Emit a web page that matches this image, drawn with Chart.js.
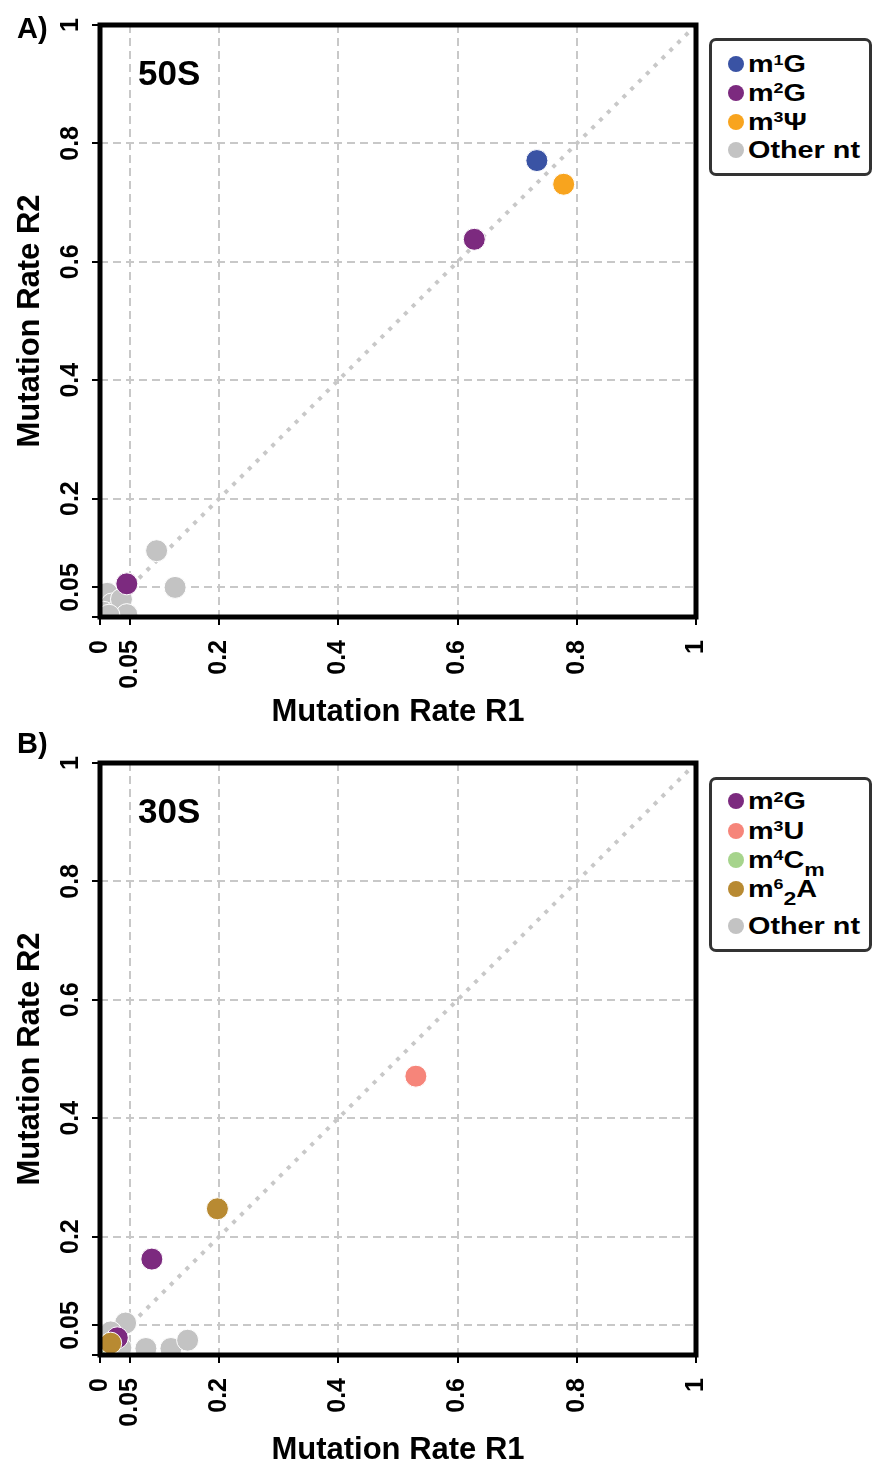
<!DOCTYPE html>
<html lang="en">
<head>
  <meta charset="UTF-8">
  <title>Mutation Rate R1 vs R2</title>
  <script src="https://cdn.jsdelivr.net/npm/chart.js"></script>
  <style>
    body {
      margin: 0;
      background: #fff;
      width: 872px;
      height: 1464px;
      overflow: hidden;
      position: relative;
      font-family: 'Liberation Sans', Arial, sans-serif;
    }
    .panel { position: absolute; left: 0; width: 872px; overflow: hidden; }
    .panel canvas { display: block; }
    .legend {
      position: absolute;
      left: 709px;
      width: 163px;
      box-sizing: border-box;
      border: 3px solid #333;
      border-radius: 7px;
      background: #fff;
      padding-left: 16px;
    }
    .row { height: 28px; display: flex; align-items: center; white-space: nowrap; }
    .dot { width: 16px; height: 16px; border-radius: 50%; flex: none; margin-right: 4px; }
    .txt {
      display: inline-block;
      font-weight: bold;
      font-size: 24px;
      color: #000;
      transform: scaleX(1.2);
      transform-origin: left center;
      line-height: 1;
    }
    .txt sup { font-size: 0.62em; position: relative; top: -0.5em; vertical-align: 0; }
    .txt sub { font-size: 0.8em; position: relative; top: 0.45em; vertical-align: 0; }
  </style>
</head>
<body>
  <div class="panel" style="top:0; height:732px"><canvas id="chart50" width="872" height="732"></canvas></div>
  <div class="panel" style="top:732px; height:732px"><canvas id="chart30" width="872" height="738"></canvas></div>

  <div class="legend" style="top:38px; height:138px; padding-top:9px;">
    <div class="row"><span class="dot" style="background:#3a53a4"></span><span class="txt">m<sup>1</sup>G</span></div>
    <div class="row" style="height:29px"><span class="dot" style="background:#7c2a7f"></span><span class="txt">m<sup>2</sup>G</span></div>
    <div class="row" style="height:29px"><span class="dot" style="background:#f8a41e"></span><span class="txt">m<sup>3</sup>Ψ</span></div>
    <div class="row"><span class="dot" style="background:#c3c3c3"></span><span class="txt">Other nt</span></div>
  </div>

  <div class="legend" style="top:777px; height:175px; padding-top:6px;">
    <div class="row" style="height:30px"><span class="dot" style="background:#7c2a7f"></span><span class="txt">m<sup>2</sup>G</span></div>
    <div class="row" style="height:29px"><span class="dot" style="background:#f6857a"></span><span class="txt">m<sup>3</sup>U</span></div>
    <div class="row" style="height:29px"><span class="dot" style="background:#a6d48c"></span><span class="txt">m<sup>4</sup>C<sub>m</sub></span></div>
    <div class="row" style="height:29px"><span class="dot" style="background:#b88a32"></span><span class="txt">m<sup>6</sup><sub>2</sub>A</span></div>
    <div class="row" style="height:29px; margin-top:8px"><span class="dot" style="background:#c3c3c3"></span><span class="txt">Other nt</span></div>
  </div>

  <script>
    // axis ticks (same for both panels)
    const tickValues = [0, 0.05, 0.2, 0.4, 0.6, 0.8, 1];
    const xTickLabels = ['0', '0.05', '0.2', '0.4', '0.6', '0.8', '1'];
    const yTickLabels = ['', '0.05', '0.2', '0.4', '0.6', '0.8', '1'];

    // identity line
    const diagX = [0, 1];
    const diagY = [0, 1];

    // A) 50S
    const s50_m1G_R1 = [0.733];
    const s50_m1G_R2 = [0.771];
    const s50_m2G_R1 = [0.628, 0.045];
    const s50_m2G_R2 = [0.638, 0.056];
    const s50_m3Psi_R1 = [0.778];
    const s50_m3Psi_R2 = [0.731];
    const s50_other_R1 = [0.095, 0.126, 0.012, 0.020, 0.006, 0.030, 0.036, 0.045, 0.015];
    const s50_other_R2 = [0.112, 0.050, 0.040, 0.022, 0.008, 0.012, 0.030, 0.004, 0.003];

    // B) 30S
    const s30_m2G_R1 = [0.087, 0.029];
    const s30_m2G_R2 = [0.162, 0.029];
    const s30_m3U_R1 = [0.530];
    const s30_m3U_R2 = [0.471];
    const s30_m4Cm_R1 = [0.016];
    const s30_m4Cm_R2 = [0.018];
    const s30_m62A_R1 = [0.197, 0.018];
    const s30_m62A_R2 = [0.247, 0.020];
    const s30_other_R1 = [0.043, 0.018, 0.077, 0.119, 0.147, 0.035, 0.008];
    const s30_other_R2 = [0.054, 0.039, 0.011, 0.011, 0.025, 0.012, 0.006];

    const FONT = "'Liberation Sans', Arial, sans-serif";

    function pts(xs, ys) {
      return xs.map((x, i) => ({ x: x, y: ys[i] }));
    }

    function dots(label, color, xs, ys) {
      return {
        type: 'scatter', label: label, data: pts(xs, ys),
        backgroundColor: color, borderColor: '#ffffff', borderWidth: 1,
        pointRadius: 11, pointHoverRadius: 11, clip: 0
      };
    }

    function diagonal() {
      return {
        type: 'line', label: 'y = x', data: pts(diagX, diagY),
        borderColor: '#c8c8c8', borderWidth: 4, borderDash: [4, 7],
        pointRadius: 0, fill: false, clip: 0
      };
    }

    function makeScales(xHeight) {
      const grid = { color: '#c8c8c8', lineWidth: 2, tickLength: 8, tickColor: '#000', tickWidth: 2, tickBorderDash: [] };
      const border = { display: false, dash: [8, 5] };
      const tickFont = { family: FONT, size: 25, weight: 'bold' };
      const titleFont = { family: FONT, size: 31, weight: 'bold' };
      const setTicks = s => { s.ticks = tickValues.map(v => ({ value: v })); };
      return {
        x: {
          type: 'linear', position: 'bottom', min: 0, max: 1,
          afterBuildTicks: setTicks,
          grid: grid, border: border,
          ticks: {
            minRotation: 90, maxRotation: 90, autoSkip: false, padding: 15,
            color: '#000', font: tickFont,
            callback: v => xTickLabels[tickValues.indexOf(v)]
          },
          title: { display: true, text: 'Mutation Rate R1', color: '#000', font: titleFont, padding: { top: 0, bottom: 1 } },
          afterFit: s => { s.height = xHeight; }
        },
        y: {
          type: 'linear', position: 'left', min: 0, max: 1,
          afterBuildTicks: setTicks,
          grid: grid, border: border,
          ticks: {
            minRotation: 90, maxRotation: 90, autoSkip: false, padding: -3,
            crossAlign: 'center', color: '#000', font: tickFont,
            callback: v => yTickLabels[tickValues.indexOf(v)]
          },
          title: { display: true, text: 'Mutation Rate R2', color: '#000', font: titleFont, padding: { top: 12, bottom: 0 } },
          afterFit: s => { s.width = 100; }
        }
      };
    }

    // thick box round the plot plus panel letter and subunit name
    const framePlugin = {
      id: 'frame',
      afterDraw(chart, args, opts) {
        const { ctx, chartArea: a } = chart;
        ctx.save();
        ctx.lineWidth = 5;
        ctx.strokeStyle = '#000';
        ctx.strokeRect(a.left, a.top, a.right - a.left, a.bottom - a.top);
        ctx.fillStyle = '#000';
        ctx.textBaseline = 'alphabetic';
        ctx.font = 'bold 29px ' + FONT;
        ctx.fillText(opts.tag, 17, opts.tagY);
        ctx.font = 'bold 35px ' + FONT;
        ctx.fillText(opts.name, a.left + 38, a.top + 60);
        ctx.restore();
      }
    };

    function makeChart(id, datasets, padTop, xHeight, tag, tagY, name) {
      return new Chart(document.getElementById(id), {
        data: { datasets: datasets },
        options: {
          responsive: false,
          animation: false,
          events: [],
          layout: { padding: { top: padTop, right: 176, left: 0, bottom: 0 } },
          plugins: {
            legend: { display: false },
            tooltip: { enabled: false },
            frame: { tag: tag, tagY: tagY, name: name }
          },
          scales: makeScales(xHeight)
        },
        plugins: [framePlugin]
      });
    }

    // first dataset is drawn on top
    makeChart('chart50', [
      dots('m1G', '#3a53a4', s50_m1G_R1, s50_m1G_R2),
      dots('m2G', '#7c2a7f', s50_m2G_R1, s50_m2G_R2),
      dots('m3Ψ', '#f8a41e', s50_m3Psi_R1, s50_m3Psi_R2),
      dots('Other nt', '#c3c3c3', s50_other_R1, s50_other_R2),
      diagonal()
    ], 25, 115, 'A)', 38, '50S');

    makeChart('chart30', [
      dots('m62A', '#b88a32', s30_m62A_R1, s30_m62A_R2),
      dots('m2G', '#7c2a7f', s30_m2G_R1, s30_m2G_R2),
      dots('m4Cm', '#a6d48c', s30_m4Cm_R1, s30_m4Cm_R2),
      dots('m3U', '#f6857a', s30_m3U_R1, s30_m3U_R2),
      dots('Other nt', '#c3c3c3', s30_other_R1, s30_other_R2),
      diagonal()
    ], 31, 115, 'B)', 21, '30S');
  </script>
</body>
</html>
